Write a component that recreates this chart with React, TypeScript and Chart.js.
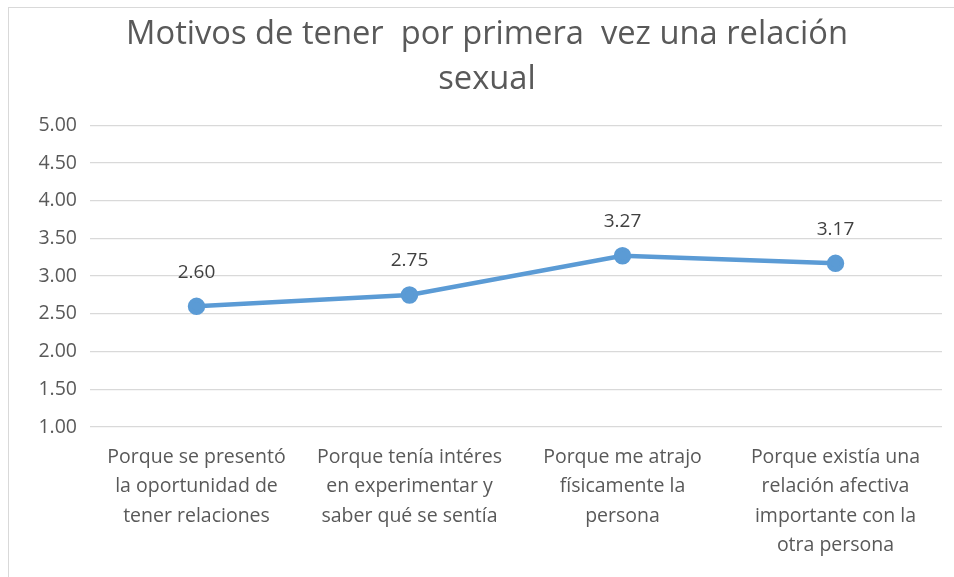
import React, { useEffect, useRef } from "react";
import { Chart, registerables } from "chart.js";

Chart.register(...registerables);

const titleLines = ["Motivos de tener  por primera  vez una relación", "sexual"];
const categories: string[][] = [
  ["Porque se presentó", "la oportunidad de", "tener relaciones"],
  ["Porque tenía intéres", "en experimentar y", "saber qué se sentía"],
  ["Porque me atrajo", "físicamente la", "persona"],
  ["Porque existía una", "relación afectiva", "importante con la", "otra persona"],
];
const values = [2.6, 2.75, 3.27, 3.17];
const yMin = 1;
const yMax = 5;
const yStep = 0.5;

const FONT = "'Open Sans', sans-serif";

const labelPlugin = {
  id: "pointLabels",
  afterDatasetsDraw(chart: any) {
    const ctx = chart.ctx;
    const meta = chart.getDatasetMeta(0);
    ctx.save();
    ctx.font = `19px ${FONT}`;
    ctx.fillStyle = "#404040";
    ctx.textAlign = "center";
    ctx.textBaseline = "middle";
    meta.data.forEach((pt: any, i: number) => {
      ctx.fillText(values[i].toFixed(2), pt.x, pt.y - 34);
    });
    ctx.restore();
  },
};

export default function App() {
  const ref = useRef<HTMLCanvasElement>(null);
  useEffect(() => {
    if (!ref.current) return;
    const chart = new Chart(ref.current, {
      type: "line",
      data: {
        labels: categories,
        datasets: [
          {
            data: values,
            borderColor: "#5B9BD5",
            backgroundColor: "#5B9BD5",
            borderWidth: 4.5,
            pointRadius: 6.5,
            pointBackgroundColor: "#5B9BD5",
            pointBorderColor: "#5B9BD5",
            tension: 0,
          },
        ],
      },
      options: {
        animation: false,
        responsive: true,
        maintainAspectRatio: false,
        layout: { padding: { left: 23, right: 12, top: 0, bottom: 0 } },
        plugins: {
          legend: { display: false },
          tooltip: { enabled: false },
          title: {
            display: true,
            text: titleLines,
            color: "#595959",
            font: { family: FONT, size: 32.7, weight: "normal", lineHeight: 1.35 },
            padding: { top: 5, bottom: 24 },
          },
        },
        scales: {
          x: {
            offset: true,
            grid: { display: false, drawTicks: false },
            border: { display: false },
            ticks: {
              color: "#595959",
              font: { family: FONT, size: 19.5, lineHeight: 1.5 },
              maxRotation: 0,
              autoSkip: false,
              padding: 16,
            },
            afterFit: (s: any) => {
              s.height = 150;
            },
          },
          y: {
            min: yMin,
            max: yMax,
            grid: { color: "#D9D9D9", lineWidth: 1.3, drawTicks: false },
            border: { display: false },
            ticks: {
              stepSize: yStep,
              color: "#595959",
              font: { family: FONT, size: 19.5 },
              padding: 13,
              callback: (v: any) => Number(v).toFixed(2),
            },
            afterFit: (s: any) => {
              s.width = 58;
            },
          },
        },
      },
      plugins: [labelPlugin],
    });
    return () => chart.destroy();
  }, []);

  return (
    <div
      style={{
        position: "absolute",
        left: 8,
        top: 7,
        width: 946,
        height: 570,
        borderLeft: "1px solid #D9D9D9",
        borderTop: "1px solid #D9D9D9",
        background: "#fff",
        boxSizing: "border-box",
      }}
    >
      <canvas ref={ref} />
    </div>
  );
}
